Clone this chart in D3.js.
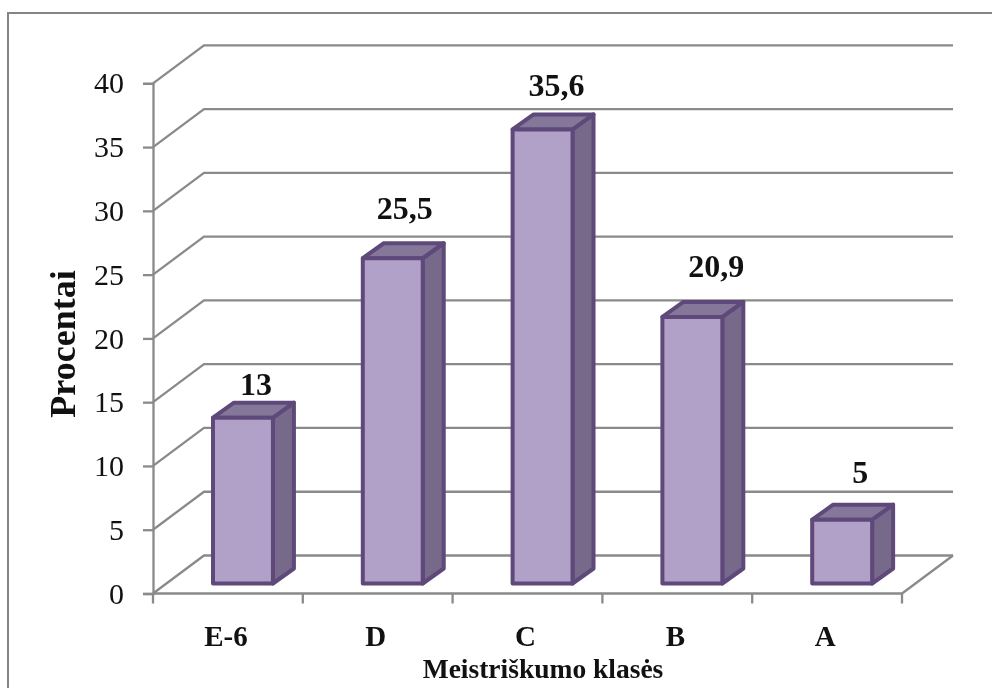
<!DOCTYPE html>
<html>
<head>
<meta charset="utf-8">
<script src="https://cdn.jsdelivr.net/npm/d3@7/dist/d3.min.js"></script>
<style>html,body{margin:0;padding:0;background:#fff}svg{display:block;filter:blur(0.45px)}</style>
</head>
<body>
<svg id="chart" width="992" height="688"></svg>
<script>
const categories = ["E-6", "D", "C", "B", "A"];
const values = [13, 25.5, 35.6, 20.9, 5];
const valueLabels = ["13", "25,5", "35,6", "20,9", "5"];
const yTicks = [0, 5, 10, 15, 20, 25, 30, 35, 40];
const xAxisTitle = "Meistriškumo klasės";
const yAxisTitle = "Procentai";
// hand-placed label gaps in the original (px above bar's back top edge, px right of front centre)
const labelLift = [8, 24, 18, 25, 22];
const labelShift = [13, 12, 14, 24, 18];

const svg = d3.select("#chart");
const serif = "'Liberation Serif','Times New Roman',serif";
const gridCol = "#8a8a8a";
const depth = {x: 51, y: -38};
const barDepth = {x: 21, y: -15};
const x = d3.scaleBand().domain(categories).range([153, 902]);
const y = d3.scaleLinear().domain([0, 40]).range([593.5, 83.3]);
const lineGen = d3.line();

// frame
svg.append("path").attr("d", lineGen([[8, 688], [8, 13], [992, 13]]))
  .attr("fill", "none").attr("stroke", "#858585").attr("stroke-width", 2);

// wall gridlines
svg.append("g").selectAll("path").data(yTicks).join("path")
  .attr("d", t => lineGen([[x.range()[0], y(t)], [x.range()[0] + depth.x, y(t) + depth.y], [x.range()[1] + depth.x, y(t) + depth.y]]))
  .attr("fill", "none").attr("stroke", gridCol).attr("stroke-width", 2.3);
// floor right edge
svg.append("path")
  .attr("d", lineGen([[x.range()[1], y(0)], [x.range()[1] + depth.x, y(0) + depth.y]]))
  .attr("fill", "none").attr("stroke", gridCol).attr("stroke-width", 2.3);

// y axis
const yAxis = d3.axisLeft(y).tickValues(yTicks).tickSize(10).tickPadding(19);
const gy = svg.append("g").attr("transform", `translate(${x.range()[0]},0)`).call(yAxis);
gy.selectAll("path,line").attr("stroke", gridCol).attr("stroke-width", 2.3);
gy.selectAll("text").attr("font-family", serif).attr("font-size", 30).attr("fill", "#111");

// x axis: tick marks at the band edges
const edges = categories.map(c => x(c)).concat(x.range()[1]);
const gxTicks = svg.append("g");
gxTicks.append("path").attr("d", lineGen([[x.range()[0], y(0)], [x.range()[1], y(0)]]))
  .attr("stroke", gridCol).attr("stroke-width", 2.3);
gxTicks.selectAll("line").data(edges).join("line")
  .attr("x1", d => d).attr("x2", d => d).attr("y1", y(0)).attr("y2", y(0) + 10)
  .attr("stroke", gridCol).attr("stroke-width", 2.3);
// category labels
const xAxis = d3.axisBottom(x).tickSize(0).tickPadding(32);
const gx = svg.append("g").attr("transform", `translate(-2,${y(0)})`).call(xAxis);
gx.select(".domain").remove();
gx.selectAll("text").attr("font-family", serif).attr("font-weight", "bold")
  .attr("font-size", 29).attr("fill", "#111");

// bars
const barW = x.bandwidth() * 0.4;
const baseDx = 60, baseDy = -10;
const unit = y(0) - y(1);
const bars = svg.append("g").selectAll("g").data(categories.map((c, i) => ({c, v: values[i], i}))).join("g");
const stroke = "#5f497a";
const geom = d => {
  const x0 = x(d.c) + baseDx, x1 = x0 + barW;
  const yb = y(0) + baseDy, yt = yb - d.v * unit;
  return {x0, x1, yb, yt};
};
bars.append("path").attr("d", d => { const g = geom(d);
  return lineGen([[g.x1, g.yt], [g.x1 + barDepth.x, g.yt + barDepth.y], [g.x1 + barDepth.x, g.yb + barDepth.y], [g.x1, g.yb]]) + "Z"; })
  .attr("fill", "#77698a");
bars.append("path").attr("d", d => { const g = geom(d);
  return lineGen([[g.x0, g.yt], [g.x0 + barDepth.x, g.yt + barDepth.y], [g.x1 + barDepth.x, g.yt + barDepth.y], [g.x1, g.yt]]) + "Z"; })
  .attr("fill", "#857799");
bars.append("path").attr("d", d => { const g = geom(d);
  return lineGen([[g.x0, g.yt], [g.x1, g.yt], [g.x1, g.yb], [g.x0, g.yb]]) + "Z"; })
  .attr("fill", "#b1a0c7");
bars.selectAll("path").attr("stroke", stroke).attr("stroke-width", 4).attr("stroke-linejoin", "round");

// value labels
bars.append("text")
  .attr("x", d => geom(d).x0 + barW / 2 + labelShift[d.i])
  .attr("y", d => geom(d).yt + barDepth.y - labelLift[d.i])
  .attr("text-anchor", "middle").attr("font-family", serif).attr("font-weight", "bold")
  .attr("font-size", 32).attr("fill", "#111")
  .text(d => valueLabels[d.i]);

// axis titles
svg.append("text").attr("x", 543).attr("y", 678).attr("text-anchor", "middle")
  .attr("font-family", serif).attr("font-weight", "bold").attr("font-size", 27.5).attr("fill", "#111")
  .text(xAxisTitle);
svg.append("text").attr("transform", "translate(75,344) rotate(-90)").attr("text-anchor", "middle")
  .attr("font-family", serif).attr("font-weight", "bold").attr("font-size", 36).attr("fill", "#111")
  .text(yAxisTitle);
</script>
</body>
</html>
